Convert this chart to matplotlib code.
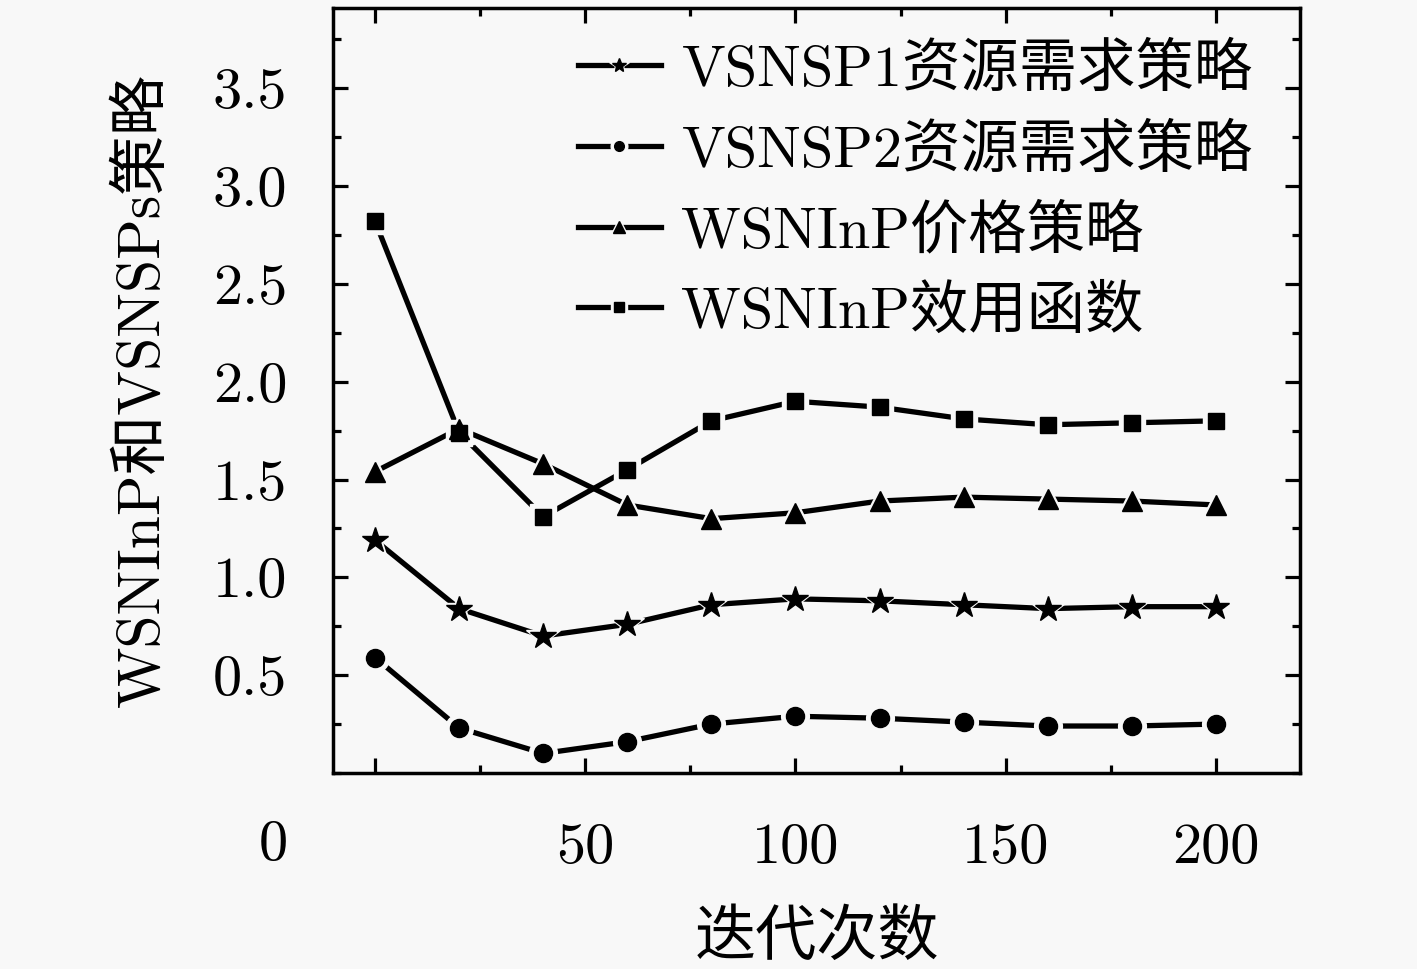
import matplotlib
matplotlib.use('Agg')
import matplotlib.pyplot as plt
from matplotlib.lines import Line2D
from matplotlib.legend_handler import HandlerTuple
from matplotlib.ticker import MultipleLocator, FixedLocator

plt.rcParams['font.family'] = ['cmr10', 'Noto Sans CJK SC']
plt.rcParams['axes.formatter.use_mathtext'] = True

# iterations
iters = [0, 20, 40, 60, 80, 100, 120, 140, 160, 180, 200]

# values
vsnsp1 = [1.19, 0.84, 0.70, 0.76, 0.86, 0.89, 0.88, 0.86, 0.84, 0.85, 0.85]
vsnsp2 = [0.59, 0.23, 0.10, 0.16, 0.25, 0.29, 0.28, 0.26, 0.24, 0.24, 0.25]
price = [1.54, 1.76, 1.58, 1.37, 1.30, 1.33, 1.39, 1.41, 1.40, 1.39, 1.37]
utility = [2.82, 1.74, 1.31, 1.55, 1.80, 1.90, 1.87, 1.81, 1.78, 1.79, 1.80]

labels = ['VSNSP1资源需求策略', 'VSNSP2资源需求策略', 'WSNInP价格策略', 'WSNInP效用函数']
markers = ['*', 'o', '^', 's']
msizes = [19, 13, 15, 12]
leg_sizes = [10, 7, 8, 6.5]

bg = '#f8f8f8'
fig = plt.figure(figsize=(14.17, 9.69), dpi=100, facecolor=bg)
ax = fig.add_axes([0.235, 0.2023, 0.6824, 0.7894])
ax.set_facecolor(bg)

handles = []
for vals, mk, ms, lms in zip([vsnsp1, vsnsp2, price, utility], markers, msizes, leg_sizes):
    ax.plot(iters, vals, color='black', linewidth=3.8, zorder=2)
    # gap around each marker, like the original
    ax.plot(iters, vals, linestyle='none', marker=mk, markersize=ms + 7,
            color=bg, zorder=2.1)
    ax.plot(iters, vals, linestyle='none', marker=mk, markersize=ms,
            color='black', zorder=2.2)
    h_line = Line2D([], [], color='black', linewidth=3.8)
    h_gap = Line2D([], [], linestyle='none', marker=mk, markersize=lms + 5, color=bg)
    h_mk = Line2D([], [], linestyle='none', marker=mk, markersize=lms, color='black')
    handles.append((h_line, h_gap, h_mk))

ax.set_xlim(-10, 220)
ax.set_ylim(0, 3.91)

ax.xaxis.set_major_locator(FixedLocator([0, 50, 100, 150, 200]))
ax.xaxis.set_minor_locator(MultipleLocator(25))
ax.set_xticklabels(['', '50', '100', '150', '200'])
ax.yaxis.set_major_locator(FixedLocator([0.5, 1.0, 1.5, 2.0, 2.5, 3.0, 3.5]))
ax.yaxis.set_minor_locator(MultipleLocator(0.25))
ax.set_yticklabels(['0.5', '1.0', '1.5', '2.0', '2.5', '3.0', '3.5'])

ax.tick_params(which='both', direction='in', top=True, right=True, width=2.3,
               labelsize=42)
ax.tick_params(which='major', length=11)
ax.tick_params(which='minor', length=6)
ax.tick_params(axis='x', pad=36)
ax.tick_params(axis='y', pad=33)
for sp in ax.spines.values():
    sp.set_linewidth(2.5)

# stray origin label
fig.text(273 / 1417, 1 - 845 / 969, '0', fontsize=42, ha='center', va='center')

ax.set_xlabel('迭代次数', fontsize=44, labelpad=26)
ax.set_ylabel('WSNInP和VSNSPs策略', fontsize=43, labelpad=30)

ax.legend(handles, labels, handler_map={tuple: HandlerTuple(ndivide=1)},
          loc='upper left', bbox_to_anchor=(0.253, 0.955), frameon=False,
          fontsize=42, handlelength=1.43, handletextpad=0.35,
          labelspacing=0.45, borderaxespad=0, borderpad=0)

fig.savefig('out.png', dpi=100, facecolor=bg)
